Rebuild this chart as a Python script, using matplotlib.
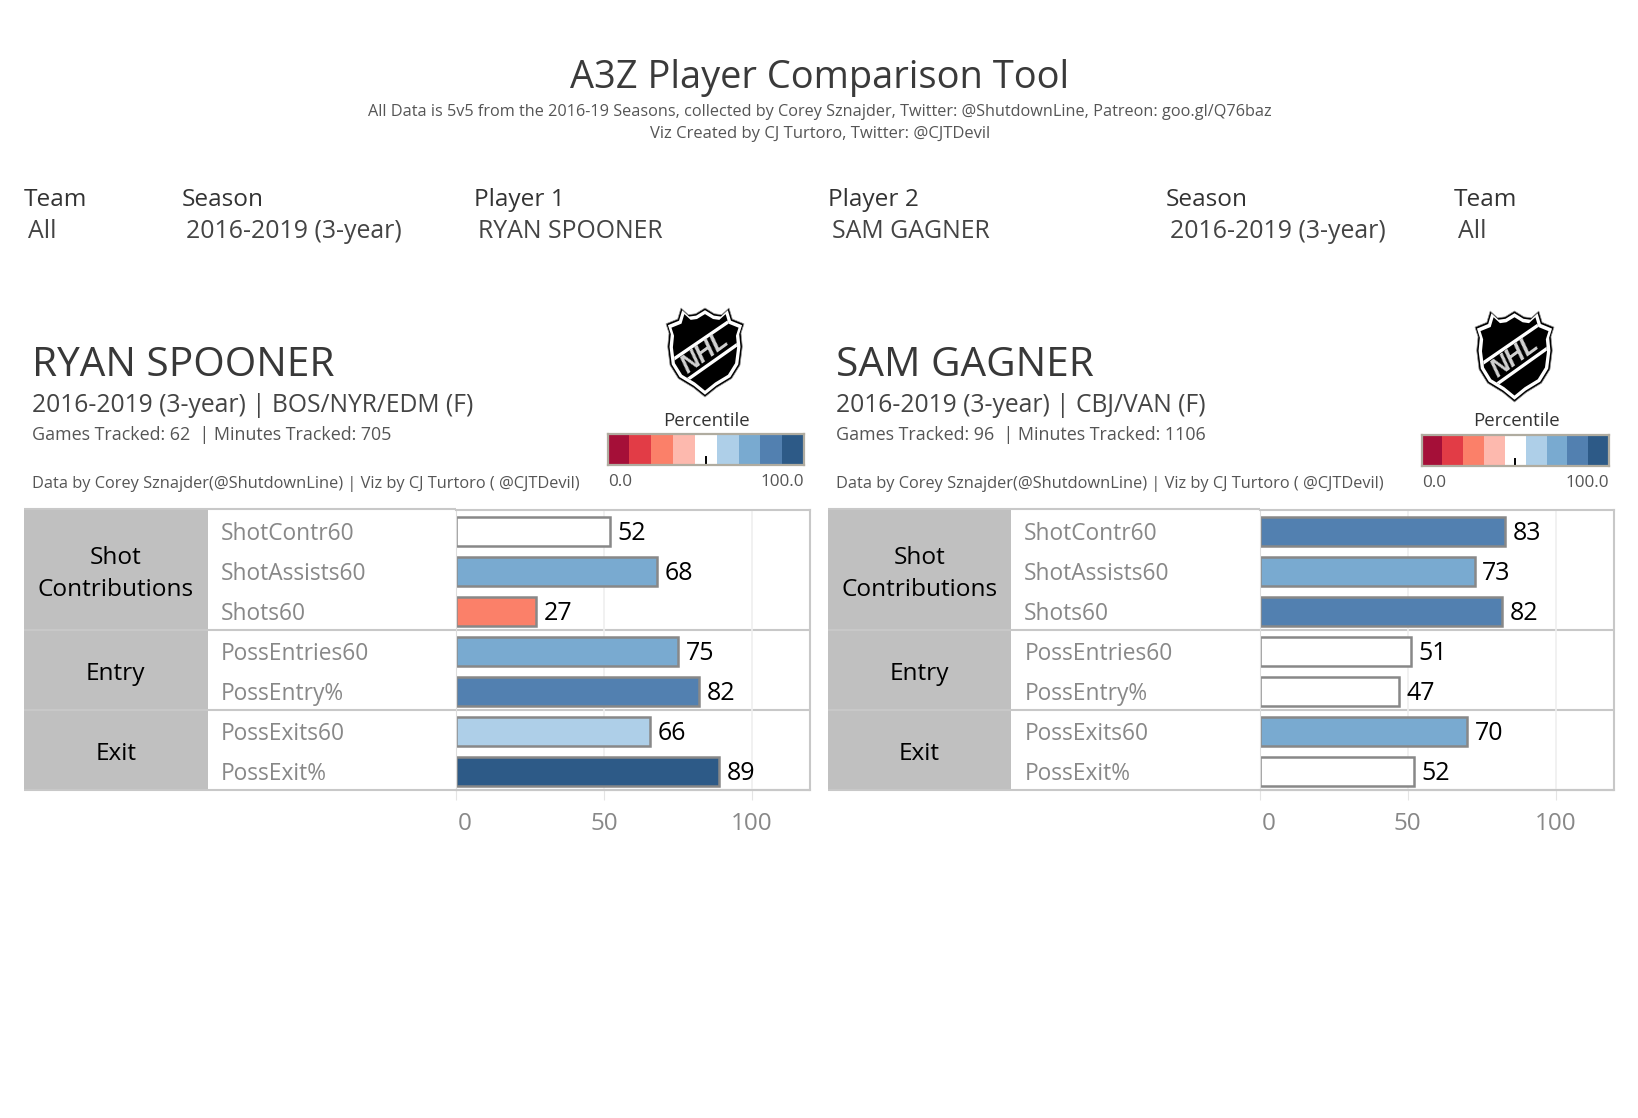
import matplotlib
matplotlib.use("Agg")
import matplotlib.pyplot as plt
from matplotlib.patches import Polygon, Rectangle
from matplotlib.transforms import ScaledTranslation

plt.rcParams['font.family'] = ['Open Sans', 'DejaVu Sans']

W, H = 1638, 1118

# data
metrics = ["ShotContr60", "ShotAssists60", "Shots60", "PossEntries60", "PossEntry%", "PossExits60", "PossExit%"]
groups = [("Shot\nContributions", 0, 3), ("Entry", 3, 5), ("Exit", 5, 7)]
p1_values = [52, 68, 27, 75, 82, 65.6, 89]
p2_values = [83, 72.6, 82, 51, 47, 70, 52]
palette = ["#a50f38", "#e23c46", "#fb8069", "#fdb9ae", "#ffffff", "#aecfe8", "#79aad0", "#5280b0", "#2d5a87"]
axis_ticks = [0, 50, 100]

GREY_TEXT = "#333333"
LIGHT_TEXT = "#555555"
LINE = "#c8c8c8"

fig = plt.figure(figsize=(W / 100, H / 100), dpi=100, facecolor="white")
bg = fig.add_axes([0, 0, 1, 1])
bg.set_xlim(0, W)
bg.set_ylim(H, 0)
bg.axis("off")


def txt(x, y, s, size, color=GREY_TEXT, ha="left", va="baseline", **kw):
    return bg.text(x, y, s, fontsize=size, color=color, ha=ha, va=va, **kw)


def pixel_axes(left, top, right, bottom):
    ax = fig.add_axes([left / W, 1 - bottom / H, (right - left) / W, (bottom - top) / H])
    ax.patch.set_alpha(0)
    return ax


# NHL shield, outline in its own little coordinate system
shield = [(78, 0), (100, 20), (122, 17), (150, 0), (178, 17), (200, 20), (222, 0), (232, 33),
          (267, 47), (258, 75), (262, 115), (255, 170), (230, 210), (185, 237), (150, 265),
          (115, 237), (70, 210), (45, 170), (38, 115), (42, 75), (33, 47), (68, 33)]


def draw_logo(left, top, width, height):
    sx = width / 234
    sy = height / 265

    def pts(scale):
        cx, cy = 150, 130
        return [(left + (cx + (u - cx) * scale - 33) * sx, top + (cy + (v - cy) * scale) * sy) for u, v in shield]

    bg.add_patch(Polygon(pts(1.0), closed=True, fc="black", ec="#999999", lw=0.5))
    bg.add_patch(Polygon(pts(0.95), closed=True, fc="white", ec="none"))
    bg.add_patch(Polygon(pts(0.86), closed=True, fc="black", ec="none"))
    inner = Polygon(pts(0.86), closed=True, transform=bg.transData, fc="none", ec="none")
    bg.add_patch(inner)
    for (u0, v0), (u1, v1) in [((40, 163), (235, 31)), ((75, 229), (265, 96))]:
        line, = bg.plot([left + (u0 - 33) * sx, left + (u1 - 33) * sx],
                        [top + v0 * sy, top + v1 * sy], color="white", lw=2.4, solid_capstyle="butt")
        line.set_clip_path(inner)
    bg.text(left + 117 * sx, top + 134 * sy, "NHL", color="#d2d2d2", fontsize=18.5, fontweight="bold",
            style="italic", rotation=36, ha="center", va="center", family="Liberation Sans")


def draw_panel(dx, name, detail, tracked, values, logo_box, legend_box):
    # player header
    txt(dx + 32.5, 375.7, name, 29.2, color="#383838")
    txt(dx + 32, 411.7, detail, 17.7, color="#444444")
    txt(dx + 32, 439.7, tracked, 12.9, color=LIGHT_TEXT)
    txt(dx + 32, 488, "Data by Corey Sznajder(@ShutdownLine) | Viz by CJ Turtoro ( @CJTDevil)", 11.8, color=LIGHT_TEXT)

    draw_logo(*logo_box)

    # percentile legend
    l, t, r, b = legend_box
    txt((l + r) / 2 + 1, 425.5, "Percentile", 13.4, ha="center")
    leg = pixel_axes(l, t, r, b)
    leg.bar(range(len(palette)), [1] * len(palette), width=1.0, color=palette, linewidth=0)
    leg.plot([4, 4], [0, 0.24], color="black", lw=1.4)
    leg.set_xlim(-0.5, len(palette) - 0.5)
    leg.set_ylim(0, 1)
    leg.set_xticks([])
    leg.set_yticks([])
    for sp in leg.spines.values():
        sp.set_color("#b0aca0")
        sp.set_linewidth(1.6)
    txt(l + 1, b + 21, "0.0", 12.3, color=LIGHT_TEXT)
    txt(r, b + 21, "100.0", 12.3, color=LIGHT_TEXT, ha="right")

    # table background
    tl, gr, lr, tr = dx + 24, dx + 207.6, dx + 456, dx + 810
    top, row_h = 510.4, 40
    bottom = top + row_h * len(metrics)
    bg.add_patch(Rectangle((tl, top), gr - tl, bottom - top, fc="#c0c0c0", ec="none", zorder=0))

    for label, start, end in groups:
        yc = top + row_h * (start + end) / 2
        lines = label.split("\n")
        if len(lines) == 2:
            txt((tl + gr) / 2, yc - 12, lines[0], 17.6, color="black", ha="center", va="center")
            txt((tl + gr) / 2, yc + 20, lines[1], 17.6, color="black", ha="center", va="center")
        else:
            txt((tl + gr) / 2, yc + 4, label, 17.6, color="black", ha="center", va="center")

    for i, metric in enumerate(metrics):
        txt(gr + 13, top + row_h * (i + 0.5) + 3.5, metric, 16.4, color="#888888", va="center")

    # bars
    ax = pixel_axes(lr, top, tr, bottom)
    colors = [palette[min(int(v / 100 * len(palette)), len(palette) - 1)] for v in values]
    ax.grid(axis="x", color="#efefef", lw=1.2)
    ax.set_axisbelow(True)
    ax.barh(range(len(values)), values, height=0.72, color=colors, edgecolor="#888888", linewidth=1.8)
    for i, v in enumerate(values):
        ax.annotate(f"{v:.0f}", (v, i), xytext=(5.5, -1.5), textcoords="offset points", va="center",
                    fontsize=18, color="black")
    ax.set_xlim(0, 119.6)
    ax.set_ylim(len(values) - 0.5 - 0.035, -0.5 - 0.035)
    ax.set_yticks([])
    ax.set_xticks(axis_ticks)
    ax.set_xticklabels([str(t) for t in axis_ticks], fontsize=17.5, color="#888888")
    ax.tick_params(axis="x", length=7.5, width=0.8, color="#e4e4e4", pad=8)
    first = ax.get_xticklabels()[0]
    first.set_ha("left")
    first.set_transform(first.get_transform() + ScaledTranslation(2 / 100, 0, fig.dpi_scale_trans))
    for sp in ["top", "bottom", "right"]:
        ax.spines[sp].set_color(LINE)
        ax.spines[sp].set_linewidth(1.5)
    ax.spines["left"].set_color("#dddddd")
    ax.spines["left"].set_linewidth(0.8)

    # section rules across the whole table
    for y in [top - 1] + [top + row_h * g[2] for g in groups]:
        bg.plot([tl, tr if y >= top else lr], [y, y], color=LINE, lw=1.5, solid_capstyle="butt", zorder=4)


# page header
txt(819.5, 87.7, "A3Z Player Comparison Tool", 27.4, ha="center", color="#3a3a3a")
txt(820, 116, "All Data is 5v5 from the 2016-19 Seasons, collected by Corey Sznajder, Twitter: @ShutdownLine, Patreon: goo.gl/Q76baz",
    11.7, ha="center", color=LIGHT_TEXT)
txt(820, 137.7, "Viz Created by CJ Turtoro, Twitter: @CJTDevil", 12, ha="center", color=LIGHT_TEXT)

# filter row
for x, label, vx, value in [(24, "Team", 28.5, "All"),
                            (182, "Season", 186, "2016-2019 (3-year)"),
                            (474.5, "Player 1", 478.5, "RYAN SPOONER"),
                            (828.5, "Player 2", 832, "SAM GAGNER"),
                            (1165.5, "Season", 1170, "2016-2019 (3-year)"),
                            (1454, "Team", 1458, "All")]:
    txt(x, 205.7, label, 17.6)
    txt(vx, 238.5, value, 17.9, color="#444444")

draw_panel(0, "RYAN SPOONER", "2016-2019 (3-year) | BOS/NYR/EDM (F)",
           "Games Tracked: 62  | Minutes Tracked: 705", p1_values,
           (666, 308, 78, 89), (607.5, 433.5, 804, 465))
draw_panel(803.7, "SAM GAGNER", "2016-2019 (3-year) | CBJ/VAN (F)",
           "Games Tracked: 96  | Minutes Tracked: 1106", p2_values,
           (1475, 311, 79, 91), (1421.5, 435, 1609, 466))

fig.savefig("out.png", dpi=100)
